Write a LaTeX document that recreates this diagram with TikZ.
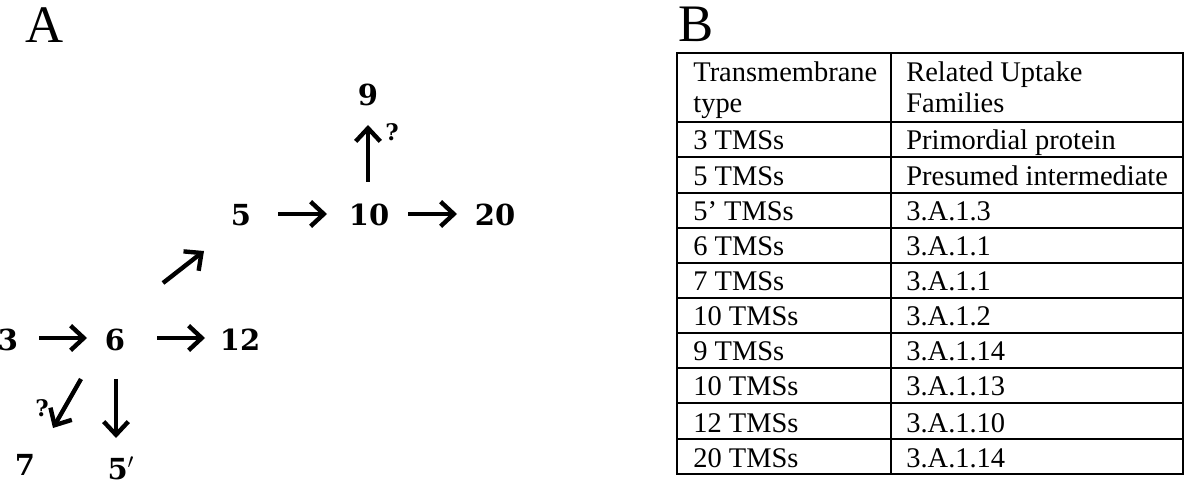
\documentclass[tikz,border=0pt]{standalone}
\usepackage{fontspec}
\setmainfont{Liberation Serif}
\newfontfamily\numfont{DejaVu Serif}
\usetikzlibrary{arrows.meta}
\begin{document}
\begin{tikzpicture}[x=0.02cm,y=-0.02cm,
  num/.style={font=\fontsize{16.5}{19}\numfont\bfseries, inner sep=0},
  qm/.style={font=\fontsize{13}{15}\numfont\bfseries, inner sep=0},
  arr/.style={line width=2.5pt, -{Straight Barb[length=7.5pt,width=14pt]}},
  panel/.style={font=\fontsize{30}{36}\selectfont, inner sep=0, anchor=base west},
  cell/.style={font=\fontsize{16.2}{19}\selectfont, inner sep=0, anchor=base west},
  grid/.style={line width=0.9pt}]
\useasboundingbox[fill=white] (0,0) rectangle (1200,489);

% panel labels
\node[panel] (lA) at (25,43) {A};
\node[panel] (lB) at (678,42) {B};

% diagram nodes
\node[num] (n3)  at (8,340)   {3};
\node[num] (n6)  at (115,340) {6};
\node[num] (n12) at (240,340) {12};
\node[num] (n5)  at (241,215) {5};
\node[num] (n10) at (369,215) {10};
\node[num] (n20) at (495,215) {20};
\node[num] (n9)  at (368,95)  {9};
\node[num] (n7)  at (25,465)  {7};
\node[num] (n5p) at (121,468) {5$^{\prime}$};
\node[qm] (q9) at (392,132) {?};
\node[qm] (q7) at (42,408) {?};

% connectors
\draw[arr] ([shift={(31,-2)}]n3.center) -- ([shift={(-28,-2)}]n6.center);
\draw[arr] ([shift={(42,-2)}]n6.center) -- ([shift={(-35,-2)}]n12.center);
\draw[arr] ([shift={(48,-57)}]n6.center) -- ([shift={(-37,36)}]n5.center);
\draw[arr] ([shift={(-34,39)}]n6.center) -- ([shift={(28,-37)}]n7.center);
\draw[arr] ([shift={(1,39)}]n6.center) -- ([shift={(-5,-30)}]n5p.center);
\draw[arr] ([shift={(37,-1)}]n5.center) -- ([shift={(-42,-1)}]n10.center);
\draw[arr] ([shift={(39,-1)}]n10.center) -- ([shift={(-38,-1)}]n20.center);
\draw[arr] ([shift={(-1,-33)}]n10.center) -- ([shift={(0,30)}]n9.center);

% table
\draw[grid] (677,53) rectangle (1183,474);
\draw[grid] (891,53) -- (891,474);
\foreach \y in {122,157,193,228,263,298,333,368,403,439}
  \draw[grid] (677,\y) -- (1183,\y);

\node[cell] (h1a) at (693,82)  {Transmembrane};
\node[cell] (h1b) at (693,113) {type};
\node[cell] (h2a) at (906,82)  {Related Uptake};
\node[cell] (h2b) at (906,113) {Families};

\node[cell] (r1a) at (693,150) {3 TMSs};   \node[cell] (r1b) at (906,150) {Primordial protein};
\node[cell] (r2a) at (693,186) {5 TMSs};   \node[cell] (r2b) at (906,186) {Presumed intermediate};
\node[cell] (r3a) at (693,221) {5’ TMSs};  \node[cell] (r3b) at (906,221) {3.A.1.3};
\node[cell] (r4a) at (693,256) {6 TMSs};   \node[cell] (r4b) at (906,256) {3.A.1.1};
\node[cell] (r5a) at (693,291) {7 TMSs};   \node[cell] (r5b) at (906,291) {3.A.1.1};
\node[cell] (r6a) at (693,326) {10 TMSs};  \node[cell] (r6b) at (906,326) {3.A.1.2};
\node[cell] (r7a) at (693,361) {9 TMSs};   \node[cell] (r7b) at (906,361) {3.A.1.14};
\node[cell] (r8a) at (693,396) {10 TMSs};  \node[cell] (r8b) at (906,396) {3.A.1.13};
\node[cell] (r9a) at (693,432) {12 TMSs};  \node[cell] (r9b) at (906,432) {3.A.1.10};
\node[cell] (r10a) at (693,467) {20 TMSs}; \node[cell] (r10b) at (906,467) {3.A.1.14};
\end{tikzpicture}
\end{document}
